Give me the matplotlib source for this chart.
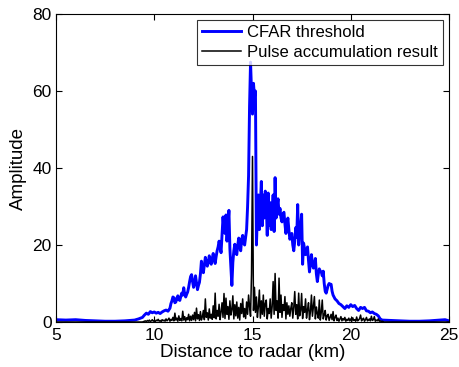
import numpy as np
import matplotlib
matplotlib.use("Agg")
import matplotlib.pyplot as plt

plt.rcParams['font.family'] = ['Liberation Sans', 'DejaVu Sans']

# CFAR threshold: left tail (km, amplitude)
cfar_left_km = [5.0, 5.5, 6.0, 6.5, 7.0, 7.5, 8.0, 8.5, 9.0, 9.2, 9.4, 9.5, 9.6, 9.7, 9.8, 9.9,
                10.0, 10.1, 10.2, 10.3, 10.4, 10.5, 10.6, 10.7]
cfar_left_amp = [0.6, 0.5, 0.6, 0.4, 0.3, 0.2, 0.2, 0.3, 0.5, 0.8, 1.2, 1.8, 2.3, 2.0, 2.7, 2.4,
                 2.6, 2.3, 2.5, 2.2, 2.6, 2.9, 3.1, 2.8]
# CFAR threshold: central part, sampled every 0.05 km from 10.80 to 19.15 km
cfar_mid_amp = [
    3.6, 4.8, 5.5, 6.5, 6.3, 5.0, 5.2, 6.2, 6.8, 5.8,
    5.6, 6.6, 7.5, 7.0, 8.9, 7.2, 6.5, 7.2, 7.8, 9.0,
    10.5, 11.8, 12.3, 10.5, 9.0, 10.0, 12.0, 10.2, 8.4, 9.5,
    10.3, 12.5, 15.8, 14.0, 12.8, 14.8, 16.8, 15.5, 14.5, 15.5,
    17.2, 16.0, 15.0, 16.5, 17.8, 16.2, 15.2, 17.0, 18.5, 19.5,
    21.0, 19.5, 18.0, 22.5, 27.3, 24.0, 23.0, 27.8, 21.0, 25.0,
    29.0, 19.0, 14.0, 9.5, 15.5, 18.5, 20.2, 18.0, 17.5, 20.0,
    21.8, 19.5, 18.5, 21.5, 22.5, 20.5, 20.0, 22.0, 24.0, 30.0,
    38.0, 56.0, 67.5, 60.0, 54.0, 62.0, 58.5, 60.0, 20.0, 28.0,
    33.0, 24.0, 30.0, 36.5, 25.0, 33.0, 27.0, 34.0, 31.0, 22.5,
    33.5, 25.0, 31.0, 24.0, 28.0, 33.0, 23.5, 37.5, 27.0, 30.0,
    32.0, 28.0, 29.5, 27.0, 26.0, 28.0, 28.5, 25.5, 23.0, 25.0,
    27.0, 24.0, 21.5, 22.0, 23.0, 20.0, 18.5, 21.0, 24.5, 22.0,
    30.5, 20.0, 23.0, 25.0, 28.0, 15.0, 20.5, 19.0, 17.5, 18.5,
    19.5, 16.0, 13.0, 15.5, 17.5, 15.0, 14.0, 15.0, 16.5, 12.5,
    10.5, 12.5, 13.8, 13.2, 13.0, 12.0, 13.2, 10.0, 8.0, 7.5,
    8.5, 9.5, 10.0, 9.8, 9.8, 8.0, 7.0, 6.5]
cfar_mid_km = np.linspace(10.80, 19.15, len(cfar_mid_amp))
# CFAR threshold: right tail
cfar_right_km = [19.2, 19.3, 19.4, 19.5, 19.6, 19.7, 19.8, 19.9,
                 20.0, 20.1, 20.2, 20.3, 20.4, 20.5, 20.6, 20.7, 20.8, 20.9,
                 21.0, 21.1, 21.2, 21.3, 21.4, 21.5, 21.6, 22.0, 22.5, 23.0, 23.5, 24.0, 24.5, 24.8, 25.0]
cfar_right_amp = [6.0, 5.5, 4.8, 4.5, 4.0, 3.5, 4.2, 3.8,
                  4.5, 4.0, 4.3, 3.5, 3.0, 3.8, 3.5, 3.8, 2.9, 2.8,
                  2.4, 2.6, 2.2, 2.0, 1.6, 0.8, 0.5, 0.4, 0.3, 0.2, 0.2, 0.3, 0.5, 0.6, 0.3]

cfar_km = np.concatenate([cfar_left_km, cfar_mid_km, cfar_right_km])
cfar_amp = np.concatenate([cfar_left_amp, cfar_mid_amp, cfar_right_amp])

# Pulse accumulation result, sampled every 0.05 km from 9.40 to 21.70 km
pulse_amp = [
    0.0, 0.1, 0.2, 0.3, 0.1, 0.4, 0.2, 0.5, 0.1, 0.3, 0.6, 0.2,
    0.4, 0.1, 0.5, 0.3, 0.7, 0.2, 0.4, 0.1, 0.6, 0.3,
    0.5, 0.2, 0.8, 0.3, 0.6, 1.0, 0.2, 0.7, 0.4, 1.2,
    0.3, 2.3, 0.5, 1.0, 0.2, 1.6, 0.4, 0.9, 0.3, 2.8,
    0.5, 1.4, 0.2, 1.1, 0.6, 2.0, 0.3, 1.5, 0.4, 1.8,
    0.6, 2.5, 0.3, 3.6, 0.8, 1.9, 0.4, 2.7, 0.5, 1.4,
    3.0, 0.6, 6.0, 1.2, 2.4, 0.5, 3.4, 1.0, 2.0, 0.7,
    4.2, 1.1, 7.5, 0.8, 3.0, 1.5, 4.6, 0.6, 2.6, 5.0,
    1.2, 7.4, 0.9, 6.2, 2.0, 4.0, 0.7, 5.5, 1.8, 3.2,
    6.8, 0.8, 4.5, 1.6, 5.2, 1.0, 3.8, 0.5, 4.8, 2.2,
    6.0, 1.3, 3.5, 0.9, 5.2, 2.0, 7.0, 4.0, 1.5, 12.5,
    43.0,
    3.0, 9.0, 2.5, 6.5, 1.2, 4.0, 8.3, 1.0, 5.5,
    2.0, 7.0, 1.5, 4.8, 5.7, 0.8, 3.5, 2.2, 6.0, 1.0,
    4.0, 10.5, 2.0, 12.6, 3.0, 5.5, 1.0, 11.4, 2.5, 7.0,
    1.2, 4.5, 3.0, 6.6, 0.8, 5.0, 2.0, 4.2, 1.5, 3.6,
    5.0, 1.0, 3.8, 7.9, 2.0, 4.5, 0.8, 7.5, 1.6, 3.0,
    7.4, 0.9, 4.0, 2.5, 6.0, 1.0, 3.2, 5.0, 0.6, 2.8,
    7.0, 1.5, 4.0, 6.6, 0.8, 3.9, 2.2, 1.0, 5.7, 0.5,
    2.5, 5.7, 0.8, 1.8, 3.0, 0.5, 1.6, 2.0, 0.4, 1.2,
    2.0, 0.6, 2.7, 0.3, 1.2, 1.8, 0.4, 1.0, 0.2, 0.8,
    1.4, 0.3, 0.9, 0.5, 1.2, 0.2, 0.7, 0.4, 1.0, 0.3,
    0.8, 0.2, 1.1, 0.4, 0.6, 0.2, 1.3, 0.3, 0.5, 0.9,
    1.8, 0.3, 0.7, 1.0, 0.2, 0.6, 1.2, 0.3, 0.5, 0.8,
    0.3, 1.5, 0.4, 0.6, 1.4, 0.2, 0.5, 0.3, 0.8, 0.2,
    0.3, 0.1, 0.2, 0.1, 0.0]
pulse_km = np.linspace(9.40, 21.70, len(pulse_amp))
pulse_km_full = np.concatenate([[5.0], pulse_km, [25.0]])
pulse_amp_full = np.concatenate([[0.0], pulse_amp, [0.0]])

x_ticks = [5, 10, 15, 20, 25]
y_ticks = [0, 20, 40, 60, 80]

fig = plt.figure(figsize=(4.59, 3.67), dpi=100)
ax = fig.add_axes([56/459, 1-322/367, (449-56)/459, (322-14)/367])

ax.plot(cfar_km, cfar_amp, color='#0000ff', lw=2.1, label='CFAR threshold', zorder=2)
ax.plot(pulse_km_full, pulse_amp_full, color='black', lw=1.1, label='Pulse accumulation result', zorder=3)

ax.set_xlim(5, 25)
ax.set_ylim(0, 80)
ax.set_xticks(x_ticks)
ax.set_yticks(y_ticks)
ax.tick_params(direction='in', top=True, right=True, labelsize=12.5, length=4, width=0.8)
ax.tick_params(axis='x', pad=4)
ax.tick_params(axis='y', pad=3)
for s in ax.spines.values():
    s.set_linewidth(0.8)
ax.set_xlabel('Distance to radar (km)', fontsize=13.5, labelpad=1)
ax.set_ylabel('Amplitude', fontsize=13.5, labelpad=4)

leg = ax.legend(loc='upper right', fontsize=12, frameon=True, fancybox=False,
                borderaxespad=0.35, handlelength=2.3, handletextpad=0.4,
                borderpad=0.3, labelspacing=0.3)
leg.get_frame().set_edgecolor('black')
leg.get_frame().set_linewidth(0.8)

fig.savefig('out.png', dpi=100)
